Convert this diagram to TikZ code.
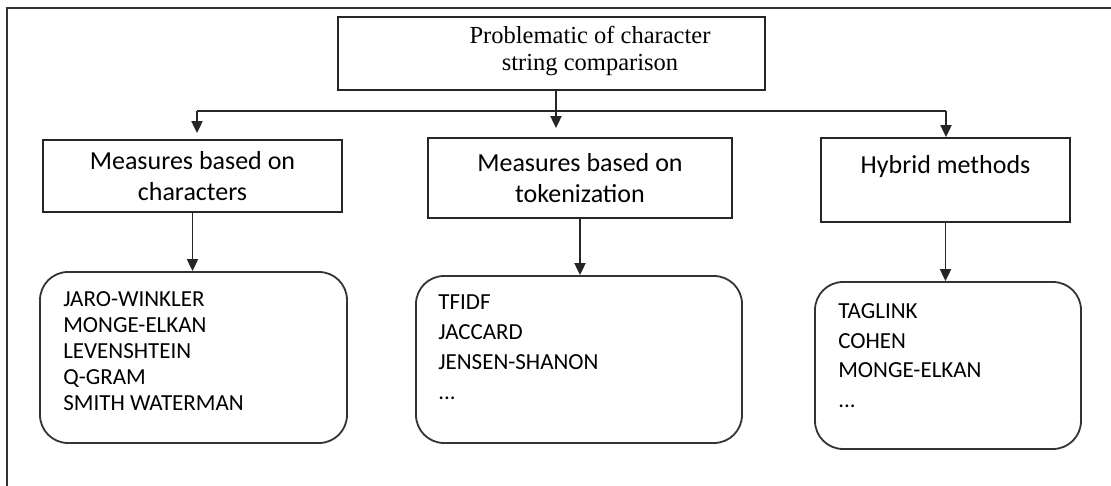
\documentclass[tikz,border=0pt]{standalone}
\usepackage{fontspec}
\setmainfont{Carlito}
\newfontfamily\titlefont{Liberation Serif}
\usetikzlibrary{arrows.meta}

\tikzset{
  catbox/.style={draw=black!85, line width=1.8pt, align=center, inner sep=0pt,
    font=\fontsize{26}{31}\selectfont},
  listbox/.style={draw=black!80, line width=1.8pt, rounded corners=28pt, inner sep=0pt},
  itemtxt/.style={align=left, inner sep=0pt, anchor=north west},
  conn/.style={draw=black!85, line width=1.9pt},
  arr/.style={conn, -{Triangle[width=11pt,length=12pt]}}
}

\begin{document}
\begin{tikzpicture}[x=1pt,y=1pt]
  \useasboundingbox (0,0) rectangle (1111,-486);
  \draw[black!80, line width=1.8pt] (1111,-8) -| (7,-486);

  % top and the three categories
  \node[catbox, minimum width=427pt, minimum height=73pt] (prob) at (551.5,-53.5) {};
  \node[align=center, font=\titlefont\fontsize{24.5}{27}\selectfont] (probtxt) at (590,-51.5)
    {Problematic of character\\string comparison};
  \node[catbox, minimum width=299pt, minimum height=72pt] (chars) at (192.5,-176)
    {Measures based on\\characters};
  \node[catbox, minimum width=304pt, minimum height=80pt] (tok) at (580,-178)
    {Measures based on\\tokenization};
  \node[catbox, minimum width=249pt, minimum height=84pt] (hyb) at (945.5,-180)
    {Hybrid methods\\~};

  % lists
  \node[listbox, minimum width=307pt, minimum height=171pt] (charlist) at (193.5,-357.5) {};
  \node[listbox, minimum width=326pt, minimum height=167pt] (toklist) at (579,-359.5) {};
  \node[listbox, minimum width=266pt, minimum height=167pt] (hyblist) at (948,-365.5) {};
  \node[itemtxt, font=\fontsize{23}{26}\selectfont] (charitems)
    at ([shift={(24,-20.5)}]charlist.north west)
    {JARO-WINKLER\\MONGE-ELKAN\\LEVENSHTEIN\\Q-GRAM\\SMITH WATERMAN};
  \node[itemtxt, font=\fontsize{23}{30}\selectfont] (tokitems)
    at ([shift={(23,-19.5)}]toklist.north west)
    {TFIDF\\JACCARD\\JENSEN-SHANON\\...};
  \node[itemtxt, font=\fontsize{23}{29.5}\selectfont] (hybitems)
    at ([shift={(24,-22.5)}]hyblist.north west)
    {TAGLINK\\COHEN\\MONGE-ELKAN\\...};

  % connectors
  \coordinate (fork) at (556,-111);
  \coordinate (forkl) at (197,-111);
  \coordinate (forkr) at (946,-111);
  \draw[conn] (prob.south -| fork) -- (fork);
  \draw[conn] (forkl) -- (forkr);
  \draw[arr, shorten >=6pt] (forkl) -- (forkl |- chars.north);
  \draw[arr, shorten >=9pt] (fork) -- (fork |- tok.north);
  \draw[arr] (forkr) -- (forkr |- hyb.north);
  \draw[arr] (chars.south) -- (chars.south |- charlist.north);
  \draw[arr] (tok.south) -- (tok.south |- toklist.north);
  \draw[arr] (hyb.south) -- (hyb.south |- hyblist.north);
\end{tikzpicture}
\end{document}
